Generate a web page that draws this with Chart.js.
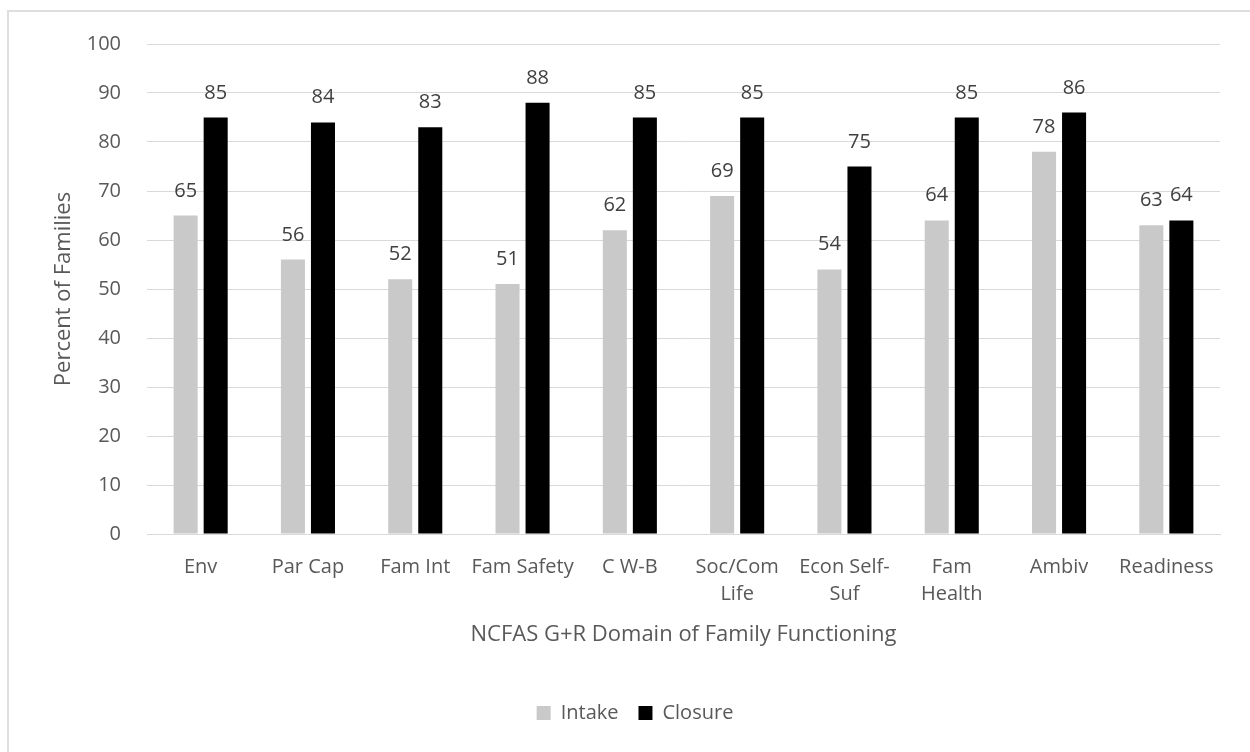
<!DOCTYPE html>
<html>
<head>
<meta charset="utf-8">
<script src="https://cdn.jsdelivr.net/npm/chart.js@4.4.1/dist/chart.umd.min.js"></script>
<style>
  html, body { margin: 0; padding: 0; background: #fff; overflow: hidden; }
  #frame { position: absolute; left: 7px; top: 10px; width: 1300px; height: 800px; border: 2px solid #dedede; }
  #wrap { position: absolute; left: 0; top: 0; width: 1250px; height: 752px; }
</style>
</head>
<body>
<div id="frame"></div>
<div id="wrap"><canvas id="chart" width="1250" height="752"></canvas></div>
<script>
const categories = ["Env", "Par Cap", "Fam Int", "Fam Safety", "C W-B", ["Soc/Com", "Life"], ["Econ Self-", "Suf"], ["Fam", "Health"], "Ambiv", "Readiness"];
const intake = [65, 56, 52, 51, 62, 69, 54, 64, 78, 63];
const closure = [85, 84, 83, 88, 85, 85, 75, 85, 86, 64];
const yTicks = [0, 10, 20, 30, 40, 50, 60, 70, 80, 90, 100];

const FONT = "'Open Sans', sans-serif";
const GREY_TEXT = "#595959";
const GRID = "#d9d9d9";

// value labels above each bar
const barLabels = {
    id: "barLabels",
    afterDatasetsDraw(chart) {
        const ctx = chart.ctx;
        ctx.save();
        ctx.font = "20px " + FONT;
        ctx.fillStyle = "#404040";
        ctx.textAlign = "center";
        ctx.textBaseline = "alphabetic";
        chart.data.datasets.forEach((ds, i) => {
            chart.getDatasetMeta(i).data.forEach((bar, j) => {
                ctx.fillText(String(ds.data[j]), bar.x, bar.y - 19);
            });
        });
        ctx.restore();
    }
};

const ctx = document.getElementById("chart").getContext("2d");
new Chart(ctx, {
    type: "bar",
    data: {
        labels: categories,
        datasets: [
            {
                label: "Intake",
                data: intake,
                backgroundColor: "#c9c9c9",
                categoryPercentage: 0.56,
                barPercentage: 0.8,
            },
            {
                label: "Closure",
                data: closure,
                backgroundColor: "#000000",
                categoryPercentage: 0.56,
                barPercentage: 0.8,
            },
        ],
    },
    options: {
        responsive: false,
        animation: false,
        layout: {
            padding: { top: 44, right: 30, left: 50, bottom: 19 },
        },
        scales: {
            x: {
                grid: { display: false, drawTicks: false },
                border: { display: true, color: GRID, width: 1 },
                ticks: {
                    color: GREY_TEXT,
                    font: { family: FONT, size: 20, lineHeight: 1.35 },
                    padding: 20,
                    maxRotation: 0,
                    autoSkip: false,
                },
                title: {
                    display: true,
                    text: "NCFAS G+R Domain of Family Functioning",
                    color: GREY_TEXT,
                    font: { family: FONT, size: 22, lineHeight: 1.2 },
                    padding: { top: 0, bottom: 35 },
                },
                afterFit: (s) => { s.height = 149; },
            },
            y: {
                min: 0,
                max: 100,
                afterBuildTicks: (s) => { s.ticks = yTicks.map(v => ({ value: v })); },
                grid: { color: GRID, lineWidth: 1, drawTicks: false },
                border: { display: false },
                ticks: {
                    color: GREY_TEXT,
                    font: { family: FONT, size: 20 },
                    padding: 26,
                },
                title: {
                    display: true,
                    text: "Percent of Families",
                    color: GREY_TEXT,
                    font: { family: FONT, size: 22, lineHeight: 1.2 },
                    padding: { top: 1, bottom: 0 },
                },
                afterFit: (s) => { s.width = 97; },
            },
        },
        plugins: {
            legend: {
                position: "bottom",
                labels: {
                    color: GREY_TEXT,
                    font: { family: FONT, size: 20 },
                    boxWidth: 14,
                    boxHeight: 14,
                    padding: 20,
                },
            },
            tooltip: { enabled: false },
        },
    },
    plugins: [barLabels],
});
</script>
</body>
</html>
